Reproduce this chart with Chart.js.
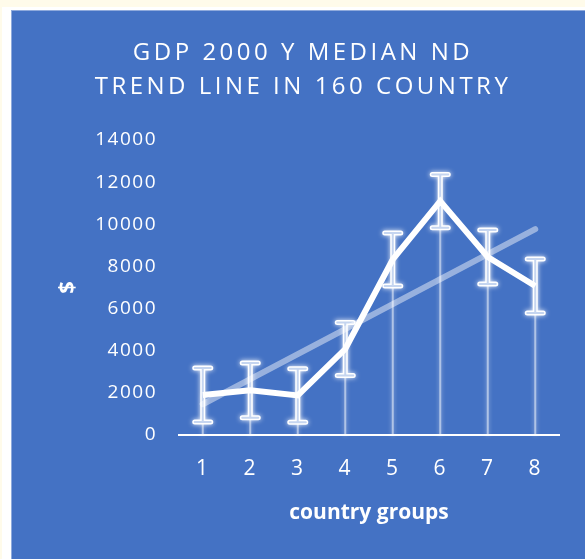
<!DOCTYPE html>
<html>
<head>
<meta charset="utf-8">
<script src="https://cdn.jsdelivr.net/npm/chart.js@4"></script>
<style>
  body { margin: 0; background: #fffbea; }
  #frame { position: absolute; left: 2px; top: 7px; width: 583px; height: 552px; background: #ffffff; }
  #panel { position: absolute; left: 11px; top: 10px; width: 574px; height: 549px; background: #4472c4;
           border-left: 1px solid #8faadc; border-top: 1px solid #8faadc; box-sizing: border-box; }
  canvas { position: absolute; left: 0; top: 0; }
</style>
</head>
<body>
<div id="frame"></div>
<div id="panel"></div>
<canvas id="gdp-chart" width="585" height="559"></canvas>
<script>
const categories = ['1', '2', '3', '4', '5', '6', '7', '8'];
const medianGdp = [1900, 2120, 1880, 4080, 8330, 11100, 8450, 7070];
const errorMargin = [1280, 1300, 1270, 1260, 1260, 1260, 1280, 1280];
const yMin = 0;
const yMax = 14000;
const yStep = 2000;
const titleLines = ['GDP 2000 Y MEDIAN ND', 'TREND LINE IN 160 COUNTRY'];

// least squares line through the medians (x = 1..n)
function linearTrend(values) {
    const n = values.length;
    const xs = values.map((v, i) => i + 1);
    const mx = xs.reduce((a, b) => a + b, 0) / n;
    const my = values.reduce((a, b) => a + b, 0) / n;
    let sxy = 0, sxx = 0;
    xs.forEach((x, i) => {
        sxy += (x - mx) * (values[i] - my);
        sxx += (x - mx) * (x - mx);
    });
    const slope = sxy / sxx;
    return xs.map(x => my + slope * (x - mx));
}

// drop lines + glowing error bars, under the main line
const errorBars = {
    id: 'errorBars',
    beforeDatasetsDraw(chart) {
        const { ctx, scales: { x, y } } = chart;
        const base = y.getPixelForValue(0);
        ctx.save();
        ctx.lineCap = 'round';
        medianGdp.forEach((v, i) => {
            const px = x.getPixelForValue(i);
            const mid = y.getPixelForValue(v);
            const hi = y.getPixelForValue(v + errorMargin[i]);
            const lo = y.getPixelForValue(v - errorMargin[i]);

            ctx.shadowColor = 'rgba(255,255,255,0.9)';
            ctx.shadowBlur = 4;
            ctx.strokeStyle = 'rgba(255,255,255,0.5)';
            ctx.lineWidth = 2;
            ctx.beginPath();
            ctx.moveTo(px, mid);
            ctx.lineTo(px, base);
            ctx.stroke();

            const bar = () => {
                ctx.beginPath();
                ctx.moveTo(px - 8, hi); ctx.lineTo(px + 8, hi);
                ctx.moveTo(px, hi); ctx.lineTo(px, lo);
                ctx.moveTo(px - 8, lo); ctx.lineTo(px + 8, lo);
                ctx.stroke();
            };
            ctx.shadowBlur = 5;
            ctx.strokeStyle = '#ffffff';
            ctx.lineWidth = 5;
            bar();
            ctx.shadowBlur = 0;
            ctx.strokeStyle = '#c5d5f0';
            ctx.lineWidth = 2;
            bar();
        });
        ctx.restore();
    },
    // tick labels are drawn after the datasets (ticks.z = 1), a bit spaced out
    afterDatasetsDraw(chart) {
        chart.ctx.letterSpacing = '1.5px';
    },
    afterDraw(chart) {
        const ctx = chart.ctx;
        ctx.letterSpacing = '0px';
        ctx.save();
        ctx.font = "24px 'Open Sans'";
        ctx.letterSpacing = '3.5px';
        ctx.fillStyle = '#ffffff';
        ctx.textAlign = 'center';
        ctx.textBaseline = 'alphabetic';
        ctx.fillText(titleLines[0], 303, 60);
        ctx.fillText(titleLines[1], 303, 94);
        ctx.restore();
    }
};

Chart.defaults.font.family = "'Open Sans', sans-serif";
Chart.defaults.color = '#ffffff';

new Chart(document.getElementById('gdp-chart').getContext('2d'), {
    type: 'line',
    data: {
        labels: categories,
        datasets: [
            {
                label: 'median',
                data: medianGdp,
                borderColor: '#ffffff',
                borderWidth: 6,
                pointRadius: 0,
                tension: 0
            },
            {
                label: 'trend',
                data: linearTrend(medianGdp),
                borderColor: 'rgba(255,255,255,0.45)',
                borderWidth: 6,
                borderCapStyle: 'round',
                pointRadius: 0
            }
        ]
    },
    options: {
        responsive: false,
        animation: false,
        events: [],
        layout: { padding: { top: 140, right: 26, bottom: 0, left: 0 } },
        plugins: { legend: { display: false }, tooltip: { enabled: false } },
        scales: {
            x: {
                offset: true,
                grid: { display: false, drawTicks: false },
                border: { display: true, color: '#ffffff', width: 2 },
                ticks: { padding: 21, z: 1, font: { size: 21 } },
                title: {
                    display: true,
                    text: 'country groups',
                    font: { size: 21, weight: 'bold' },
                    padding: { top: 0, bottom: 33 }
                },
                afterFit(scale) { scale.height = 124; }
            },
            y: {
                min: yMin,
                max: yMax,
                grid: { display: false, drawTicks: false },
                border: { display: false },
                ticks: {
                    stepSize: yStep,
                    padding: 22,
                    z: 1,
                    font: { size: 19 },
                    callback: value => String(value)
                },
                title: {
                    display: true,
                    text: '$',
                    font: { size: 22, weight: 'bold' },
                    padding: { top: 55, bottom: 0 }
                },
                afterFit(scale) { scale.width = 179; }
            }
        }
    },
    plugins: [errorBars]
});
</script>
</body>
</html>
